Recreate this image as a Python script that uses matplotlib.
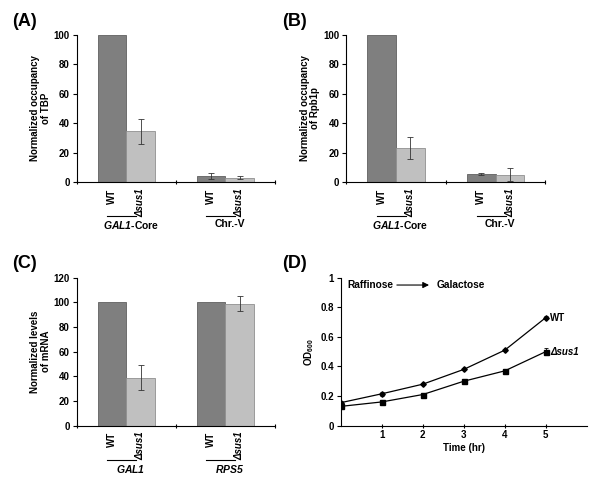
import numpy as np
import matplotlib
matplotlib.use('Agg')
import matplotlib.pyplot as plt
from matplotlib.transforms import blended_transform_factory

plt.rcParams['font.family'] = ['Liberation Sans', 'DejaVu Sans']
plt.rcParams['font.weight'] = 'bold'
plt.rcParams['mathtext.fontset'] = 'custom'
plt.rcParams['mathtext.rm'] = 'Liberation Sans:bold'
plt.rcParams['mathtext.it'] = 'Liberation Sans:bold:italic'
plt.rcParams['mathtext.sf'] = 'Liberation Sans:bold:italic'
plt.rcParams['mathtext.bf'] = 'Liberation Sans:bold'

# data
strains = ['WT', 'Δsus1']
groups_ab = [r'$\mathsf{GAL1}$-Core', 'Chr.-V']
groups_c = [r'$\mathsf{GAL1}$', r'$\mathsf{RPS5}$']

tbp_wt = [100, 4.0]
tbp_wt_err = [0, 2.0]
tbp_sus1 = [34.5, 3.0]
tbp_sus1_err = [8.5, 1.0]

rpb1_wt = [100, 5.5]
rpb1_wt_err = [0, 0.5]
rpb1_sus1 = [23, 5.0]
rpb1_sus1_err = [7.5, 4.5]

mrna_wt = [100, 100]
mrna_wt_err = [0, 0]
mrna_sus1 = [39, 99]
mrna_sus1_err = [10, 6]

time_hr = [0, 1, 2, 3, 4, 5]
od_wt = [0.155, 0.215, 0.28, 0.38, 0.51, 0.73]
od_wt_err = [0.01, 0.015, 0.005, 0.005, 0.005, 0.01]
od_sus1 = [0.13, 0.16, 0.21, 0.30, 0.37, 0.50]
od_sus1_err = [0.015, 0.005, 0.005, 0.005, 0.01, 0.025]

dark = '#7f7f7f'
light = '#c0c0c0'
fs = 7

fig = plt.figure(figsize=(6.0, 4.82), dpi=100)


def bar_panel(rect, wt, wt_err, sus, sus_err, groups, ylim, yticks, ylabel):
    ax = fig.add_axes(rect)
    w = 0.29
    x = np.arange(len(groups)) + 0.5
    ax.bar(x - w / 2, wt, w, color=dark, edgecolor='#606060', linewidth=0.6)
    ax.bar(x + w / 2, sus, w, color=light, edgecolor='#909090', linewidth=0.6)
    ax.errorbar(x - w / 2, wt, yerr=[e if e > 0 else np.nan for e in wt_err],
                fmt='none', ecolor='#333333', elinewidth=0.6, capsize=2, capthick=0.6)
    ax.errorbar(x + w / 2, sus, yerr=sus_err, fmt='none', ecolor='#333333',
                elinewidth=0.6, capsize=2, capthick=0.6)
    ax.set_xlim(0, len(groups))
    ax.set_ylim(*ylim)
    ax.set_yticks(yticks)
    ax.set_xticks(np.arange(len(groups) + 1))
    ax.set_xticklabels([])
    ax.tick_params(axis='x', which='major', length=3, width=0.8, direction='inout')
    ax.tick_params(axis='y', length=3, width=0.8, labelsize=fs, pad=2)
    for s in ['top', 'right']:
        ax.spines[s].set_visible(False)
    for s in ['left', 'bottom']:
        ax.spines[s].set_linewidth(0.8)
    ax.set_ylabel(ylabel, fontsize=fs, fontweight='bold', linespacing=1.1, labelpad=2)
    tr = blended_transform_factory(ax.transData, ax.transAxes)
    for i, g in enumerate(groups):
        for j, name in enumerate(strains):
            xx = x[i] + (j - 0.5) * w
            ax.annotate(name, xy=(xx, 0), xycoords=tr, xytext=(0, -4.5),
                        textcoords='offset points', rotation=90, ha='center', va='top',
                        fontsize=7, fontweight='bold',
                        fontstyle='italic' if j == 1 else 'normal')
        line_y = -0.23
        ax.plot([x[i] - w / 2 - 0.045, x[i] + w / 2 - 0.045], [line_y, line_y],
                transform=tr, color='black', lw=0.8, clip_on=False)
        ax.text(x[i] + 0.045, line_y - 0.02, g, transform=tr, ha='center', va='top',
                fontsize=fs + 0.5, fontweight='bold')
    return ax


bar_panel([0.128, 0.622, 0.33, 0.306], tbp_wt, tbp_wt_err, tbp_sus1, tbp_sus1_err,
          groups_ab, (0, 100), range(0, 101, 20), 'Normalized occupancy\nof TBP')
bar_panel([0.577, 0.622, 0.332, 0.306], rpb1_wt, rpb1_wt_err, rpb1_sus1, rpb1_sus1_err,
          groups_ab, (0, 100), range(0, 101, 20), 'Normalized occupancy\nof Rpb1p')
bar_panel([0.128, 0.117, 0.33, 0.307], mrna_wt, mrna_wt_err, mrna_sus1, mrna_sus1_err,
          groups_c, (0, 120), range(0, 121, 20), 'Normalized levels\nof mRNA')

# growth curve
ax = fig.add_axes([0.568, 0.117, 0.41, 0.307])
ax.errorbar(time_hr, od_wt, yerr=od_wt_err, color='black', lw=0.9, marker='D',
            markersize=2.8, elinewidth=0.6, capsize=1.5, capthick=0.6)
ax.errorbar(time_hr, od_sus1, yerr=od_sus1_err, color='black', lw=0.9, marker='s',
            markersize=3.6, elinewidth=0.6, capsize=1.5, capthick=0.6)
ax.set_xlim(0, 6)
ax.set_ylim(0, 1)
ax.set_xticks([1, 2, 3, 4, 5])
ax.set_yticks([0, 0.2, 0.4, 0.6, 0.8, 1])
ax.set_yticklabels(['0', '0.2', '0.4', '0.6', '0.8', '1'])
ax.tick_params(axis='both', length=3, width=0.8, labelsize=fs, pad=2)
ax.tick_params(axis='x', direction='inout')
for s in ['top', 'right']:
    ax.spines[s].set_visible(False)
for s in ['left', 'bottom']:
    ax.spines[s].set_linewidth(0.8)
ax.set_xlabel('Time (hr)', fontsize=fs, fontweight='bold', labelpad=2)
ax.set_ylabel(r'OD$_{600}$', fontsize=fs, fontweight='bold', labelpad=3)
ax.text(0.15, 0.95, 'Raffinose', fontsize=fs + 0.3, fontweight='bold', va='center', ha='left')
ax.annotate('', xy=(2.22, 0.95), xytext=(1.3, 0.95),
            arrowprops=dict(arrowstyle='-|>', color='black', lw=0.8, mutation_scale=9))
ax.text(2.33, 0.95, 'Galactose', fontsize=fs + 0.3, fontweight='bold', va='center', ha='left')
ax.text(time_hr[-1] + 0.1, od_wt[-1], 'WT', fontsize=fs, fontweight='bold', va='center')
ax.text(time_hr[-1] + 0.1, od_sus1[-1], 'Δsus1', fontsize=fs, fontweight='bold',
        fontstyle='italic', va='center')

# panel tags
for tag, px, py in [('(A)', 12, 21), ('(B)', 282, 21), ('(C)', 12, 263), ('(D)', 282, 263)]:
    fig.text(px / 600, 1 - py / 482, tag, fontsize=13, fontweight='bold',
             va='center', ha='left')

fig.savefig('out.png', dpi=100, facecolor='white')
